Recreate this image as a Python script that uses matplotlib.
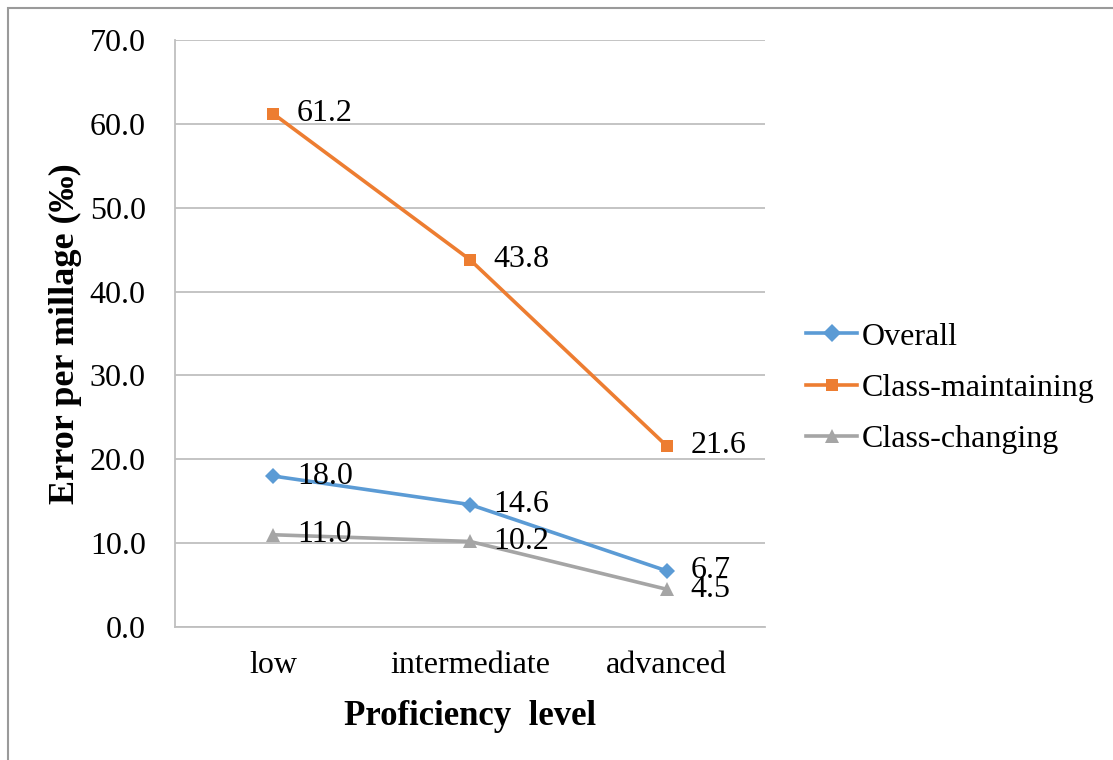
import matplotlib
matplotlib.use("Agg")
import matplotlib.pyplot as plt
from matplotlib.patches import Rectangle

# Data
levels = ["low", "intermediate", "advanced"]
overall = [18.0, 14.6, 6.7]
class_maintaining = [61.2, 43.8, 21.6]
class_changing = [11.0, 10.2, 4.5]
y_ticks = [0, 10, 20, 30, 40, 50, 60, 70]

plt.rcParams["font.family"] = ["Liberation Serif", "DejaVu Serif"]

W, H = 1113, 760
fig = plt.figure(figsize=(W / 100, H / 100), dpi=100)
ax = fig.add_axes([175 / W, 1 - 627 / H, (765 - 175) / W, (627 - 40) / H])

series = [
    ("Overall", overall, "#5B9BD5", "D", 8.5),
    ("Class-maintaining", class_maintaining, "#ED7D31", "s", 8.5),
    ("Class-changing", class_changing, "#A5A5A5", "^", 9.5),
]

x = list(range(len(levels)))
for name, values, color, marker, ms in series:
    ax.plot(x, values, color=color, lw=2.6, marker=marker, markersize=ms,
            markeredgewidth=0, label=name, zorder=3)
    for xi, v in zip(x, values):
        ax.annotate(f"{v:.1f}", (xi, v), xytext=(17, 0),
                    textcoords="offset points", ha="left", va="center",
                    fontsize=23, zorder=4)

ax.set_xlim(-0.5, 2.5)
ax.set_ylim(0, 70)
ax.set_yticks(y_ticks)
ax.set_yticklabels([f"{t:.1f}" for t in y_ticks])
ax.set_xticks(x)
ax.set_xticklabels(levels)
ax.tick_params(axis="both", length=0, labelsize=23)
ax.tick_params(axis="y", pad=21)
ax.tick_params(axis="x", pad=17)
ax.grid(axis="y", color="#BFBFBF", lw=1.3, zorder=0)

for side in ["top", "right"]:
    ax.spines[side].set_visible(False)
for side in ["left", "bottom"]:
    ax.spines[side].set_color("#BFBFBF")
    ax.spines[side].set_linewidth(1.3)

ax.set_xlabel("Proficiency  level", fontsize=25, fontweight="bold", labelpad=15)
ax.set_ylabel("Error per millage (‰)", fontsize=26, fontweight="bold", labelpad=6)

fig.legend(loc="center left", bbox_to_anchor=(790 / W, 1 - 388 / H),
           frameon=False, fontsize=23, handlelength=1.6, handletextpad=0.15,
           labelspacing=0.68, borderpad=0, markerscale=1.1)

# outer chart border
fig.patches.append(Rectangle((8 / W, -0.1), 1.2, 1.1 - 8 / H,
                             transform=fig.transFigure, fill=False,
                             edgecolor="#9A9A9A", lw=1.5))

fig.savefig("out.png", dpi=100)
